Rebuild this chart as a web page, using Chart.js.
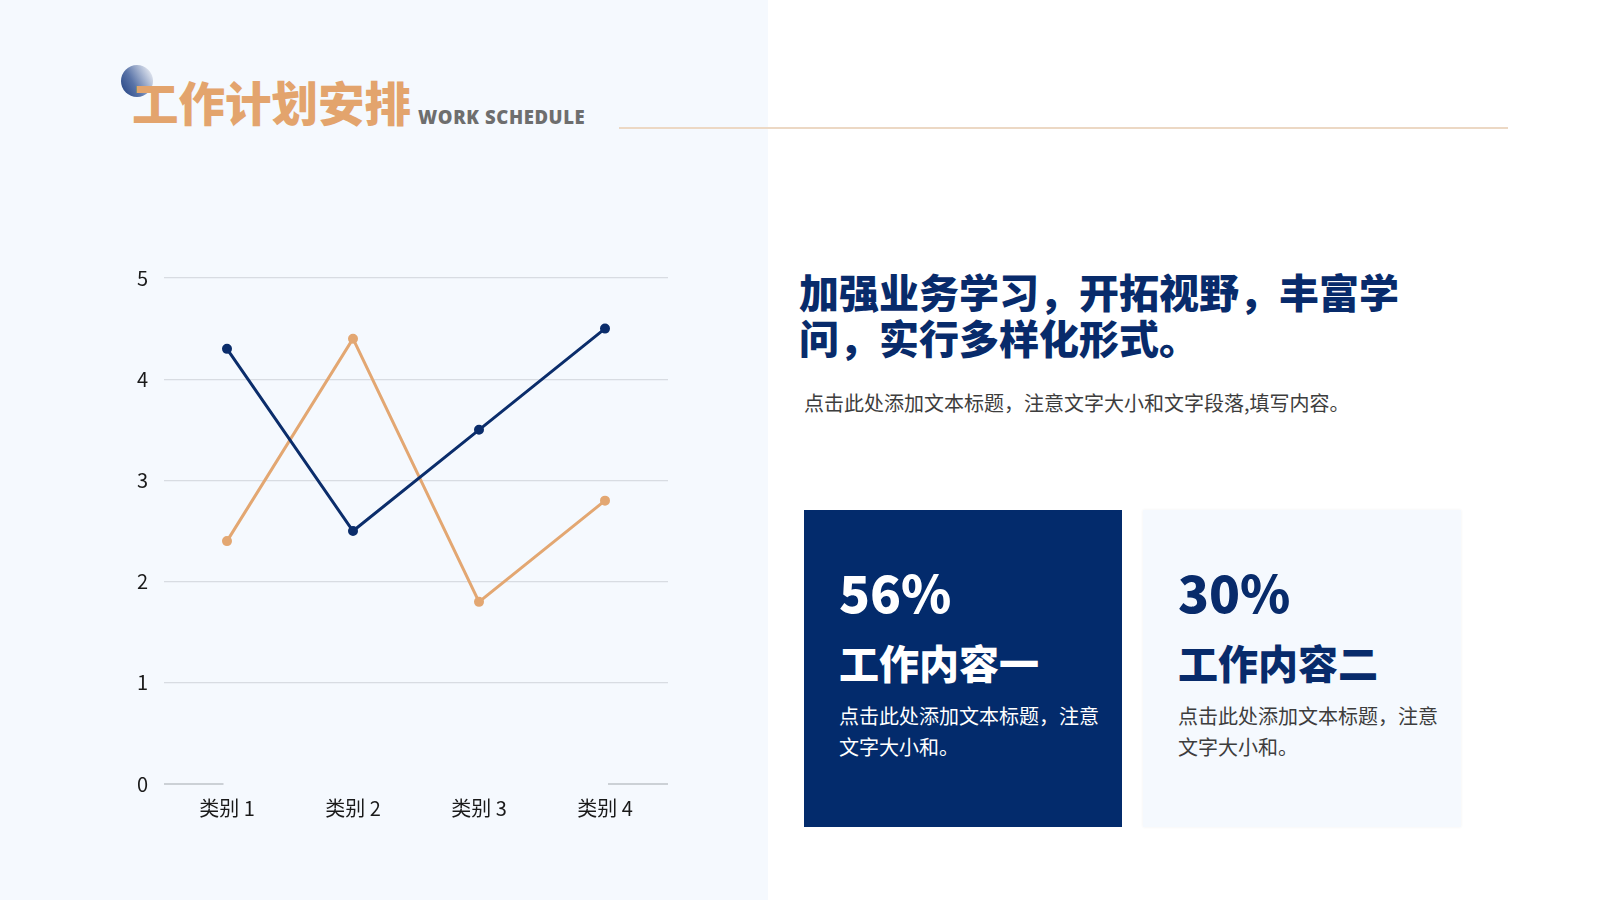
<!DOCTYPE html>
<html>
<head>
<meta charset="utf-8">
<script src="https://cdn.jsdelivr.net/npm/chart.js@4.4.0/dist/chart.umd.min.js"></script>
<style>
  html, body { margin: 0; padding: 0; }
  body { width: 1600px; height: 900px; position: relative; background: #ffffff; overflow: hidden;
         font-family: "Noto Sans CJK SC", "Noto Sans", sans-serif; }
  .abs { position: absolute; white-space: nowrap; }
  #leftPanel { left: 0; top: 0; width: 768px; height: 900px; background: #f5f9fe; }
  #dot { left: 121px; top: 65px; width: 32px; height: 32px; border-radius: 50%;
         background: linear-gradient(60deg, #1f3f80 0%, #5a74a8 40%, #ffffff 100%); }
  #title { left: 132px; top: 78px; font-size: 46.5px; line-height: 46px; font-weight: 900; color: #e3a46d; }
  #subTitle { left: 418px; top: 108px; font-family: "Open Sans", sans-serif; font-size: 18.5px; line-height: 18px;
              font-weight: 800; color: #6e6e6e; letter-spacing: 0.6px; }
  #rule { left: 619px; top: 127px; width: 889px; height: 1.5px; background: #ecd8c4; }
  #chartBox { left: 100px; top: 250px; width: 600px; height: 580px; }
  #heading { left: 799px; top: 268px; font-size: 40px; line-height: 46px; font-weight: 900; color: #082b6b; }
  #lead { left: 804px; top: 393px; font-size: 20px; line-height: 20px; color: #3d3d3d; }
  .card { top: 510px; width: 318px; height: 317px; }
  #card1 { left: 804px; background: #032b6c; }
  #card2 { left: 1143px; background: #f5f9fe; box-shadow: 0 0 3px rgba(0,0,0,0.06); }
  .pct { top: 566px; font-size: 51px; line-height: 51px; font-weight: 900; }
  .name { top: 642px; font-size: 40px; line-height: 40px; font-weight: 900; }
  .body { top: 700px; font-size: 20px; line-height: 31px; }
</style>
</head>
<body>
<div class="abs" id="leftPanel"></div>
<div class="abs" id="dot"></div>
<div class="abs" id="title">工作计划安排</div>
<div class="abs" id="subTitle">WORK SCHEDULE</div>
<div class="abs" id="rule"></div>

<div class="abs" id="chartBox"><canvas id="lineChart"></canvas></div>

<div class="abs" id="heading">加强业务学习，开拓视野，丰富学<br>问，实行多样化形式。</div>
<div class="abs" id="lead">点击此处添加文本标题，注意文字大小和文字段落,填写内容。</div>

<div class="abs card" id="card1"></div>
<div class="abs card" id="card2"></div>
<div class="abs pct" style="left:839px;color:#ffffff;">56%</div>
<div class="abs name" style="left:839px;color:#ffffff;">工作内容一</div>
<div class="abs body" style="left:839px;color:#ffffff;">点击此处添加文本标题，注意<br>文字大小和。</div>
<div class="abs pct" style="left:1178px;color:#082b6b;">30%</div>
<div class="abs name" style="left:1178px;color:#082b6b;">工作内容二</div>
<div class="abs body" style="left:1178px;color:#3d3d3d;">点击此处添加文本标题，注意<br>文字大小和。</div>

<script>
// --- DADOS ---
const categories = ['类别 1', '类别 2', '类别 3', '类别 4'];
const series1 = [4.3, 2.5, 3.5, 4.5];
const series2 = [2.4, 4.4, 1.8, 2.8];
const yTicks = [0, 1, 2, 3, 4, 5];

const BLUE = '#0b2d6b';
const ORANGE = '#e3a772';

// linha do eixo zero, interrompida entre a 1ª e a 4ª categoria
const baselinePlugin = {
    id: 'baseline',
    beforeDatasetsDraw(chart) {
        const { ctx, chartArea, scales } = chart;
        const y = scales.y.getPixelForValue(0);
        const xFirst = scales.x.getPixelForValue(0) - 3.5;
        const xLast = scales.x.getPixelForValue(categories.length - 1) + 3;
        ctx.save();
        ctx.strokeStyle = '#bfc3c9';
        ctx.lineWidth = 1.5;
        ctx.beginPath();
        ctx.moveTo(chartArea.left, y);
        ctx.lineTo(xFirst, y);
        ctx.moveTo(xLast, y);
        ctx.lineTo(chartArea.right, y);
        ctx.stroke();
        ctx.restore();
    }
};

new Chart(document.getElementById('lineChart'), {
    type: 'line',
    data: {
        labels: categories,
        datasets: [
            { label: '系列 1', data: series1, borderColor: BLUE, backgroundColor: BLUE,
              borderWidth: 3, pointRadius: 3.5, pointHoverRadius: 3.5, tension: 0 },
            { label: '系列 2', data: series2, borderColor: ORANGE, backgroundColor: ORANGE,
              borderWidth: 3, pointRadius: 3.5, pointHoverRadius: 3.5, tension: 0 }
        ]
    },
    options: {
        responsive: true,
        maintainAspectRatio: false,
        animation: false,
        layout: { padding: { left: 0, top: 26.5, right: 32, bottom: 0 } },
        plugins: { legend: { display: false }, tooltip: { enabled: false } },
        scales: {
            x: {
                offset: true,
                grid: { display: false, drawTicks: false },
                border: { display: false },
                ticks: { color: '#1a1a1a', padding: 12, font: { family: 'Noto Sans CJK SC', size: 20 } },
                afterFit: s => { s.height = 46; }
            },
            y: {
                min: 0,
                max: 5,
                afterBuildTicks: s => { s.ticks = yTicks.map(v => ({ value: v })); },
                grid: {
                    drawTicks: false,
                    lineWidth: 1.2,
                    color: c => c.tick && c.tick.value === 0 ? 'rgba(0,0,0,0)' : '#d8dce2'
                },
                border: { display: false },
                ticks: { color: '#1a1a1a', padding: 16, font: { family: 'Noto Sans CJK SC', size: 20 } },
                afterFit: s => { s.width = 64; }
            }
        }
    },
    plugins: [baselinePlugin]
});
</script>
</body>
</html>
